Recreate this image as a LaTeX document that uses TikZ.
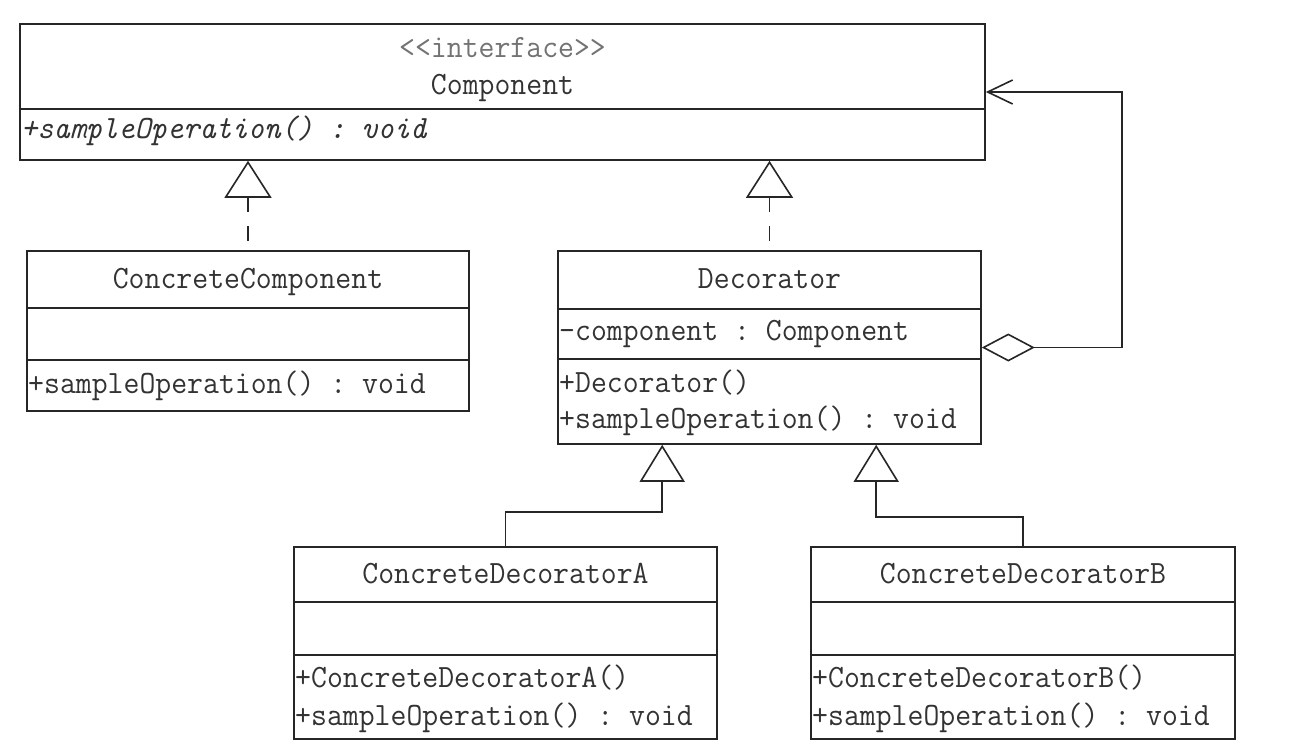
\documentclass[tikz,border=0pt]{standalone}
\usepackage{fontspec}
\setmonofont[FakeStretch=0.95]{Latin Modern Mono}
\usetikzlibrary{arrows.meta,calc}
\newcommand\umlfont{\ttfamily\fontsize{32.5}{40}\selectfont}
\begin{document}
\begin{tikzpicture}[x=1pt,y=-1pt,
  classbox/.style={draw=black!85,line width=1.6pt,rectangle,inner sep=0pt},
  rule/.style={draw=black!85,line width=1.6pt},
  classname/.style={font=\umlfont,text=black!80,inner sep=0pt,anchor=base},
  stereo/.style={font=\umlfont,text=black!55,inner sep=0pt,anchor=base},
  member/.style={font=\umlfont,text=black!80,inner sep=0pt,anchor=base west},
  realize/.style={draw=black!85,line width=1.6pt,dash pattern=on 15pt off 14pt,
    {Triangle[open,length=37pt,width=47pt]}-},
  inherit/.style={draw=black!85,line width=1.6pt,
    -{Triangle[open,length=37pt,width=45pt]}},
  aggr/.style={draw=black!85,line width=1.6pt,
    {Diamond[open,length=53pt,width=28pt]}-{Straight Barb[length=25pt,width=24pt]}}
]
\path[fill=white] (0,0) rectangle (1297,748);
\useasboundingbox (0,0) rectangle (1297,748);

% class boxes
\node[classbox,minimum width=965pt,minimum height=136pt] (comp) at (502.5,92) {};
\node[classbox,minimum width=442pt,minimum height=160pt] (cc) at (248,331) {};
\node[classbox,minimum width=423pt,minimum height=193pt] (dec) at (769.5,347.5) {};
\node[classbox,minimum width=423pt,minimum height=192pt] (cda) at (505.5,643) {};
\node[classbox,minimum width=424pt,minimum height=192pt] (cdb) at (1023,643) {};

% compartment rules
\draw[rule] ($(comp.north west)+(0,86)$) -- ($(comp.north east)+(0,86)$);
\draw[rule] ($(cc.north west)+(0,58)$) -- ($(cc.north east)+(0,58)$);
\draw[rule] ($(cc.north west)+(0,110)$) -- ($(cc.north east)+(0,110)$);
\draw[rule] ($(dec.north west)+(0,59)$) -- ($(dec.north east)+(0,59)$);
\draw[rule] ($(dec.north west)+(0,109)$) -- ($(dec.north east)+(0,109)$);
\draw[rule] ($(cda.north west)+(0,56)$) -- ($(cda.north east)+(0,56)$);
\draw[rule] ($(cda.north west)+(0,109)$) -- ($(cda.north east)+(0,109)$);
\draw[rule] ($(cdb.north west)+(0,56)$) -- ($(cdb.north east)+(0,56)$);
\draw[rule] ($(cdb.north west)+(0,109)$) -- ($(cdb.north east)+(0,109)$);

% Component
\node[stereo] (compst) at (502.5,57) {<<interface>>};
\node[classname] (compname) at (502.5,94) {Component};
\node[member] (compop) at (21,138) {\itshape +sampleOperation() : void};

% ConcreteComponent
\node[classname] (ccname) at (248,288) {ConcreteComponent};
\node[member] (ccop) at (28,393) {+sampleOperation() : void};

% Decorator
\node[classname] (decname) at (769.5,288) {Decorator};
\node[member] (decattr) at (559,340) {-component : Component};
\node[member] (decctor) at (559,392) {+Decorator()};
\node[member] (decop) at (559,428) {+sampleOperation() : void};

% ConcreteDecoratorA
\node[classname] (cdaname) at (505.5,583) {ConcreteDecoratorA};
\node[member] (cdactor) at (295,687) {+ConcreteDecoratorA()};
\node[member] (cdaop) at (295,725) {+sampleOperation() : void};

% ConcreteDecoratorB
\node[classname] (cdbname) at (1023,583) {ConcreteDecoratorB};
\node[member] (cdbctor) at (812,687) {+ConcreteDecoratorB()};
\node[member] (cdbop) at (812,725) {+sampleOperation() : void};

% realizations of the interface
\draw[realize] (comp.south -| cc.north) -- (cc.north);
\draw[realize] (comp.south -| dec.north) -- (dec.north);

% generalizations to Decorator
\coordinate (decA) at ($(dec.south west)+(105,0)$);
\coordinate (decB) at ($(dec.south west)+(319,0)$);
\coordinate (kinkA) at (0,512);
\coordinate (kinkB) at (0,517);
\draw[inherit] (cda.north) -- (cda.north |- kinkA) -| (decA);
\draw[inherit] (cdb.north) -- (cdb.north |- kinkB) -| (decB);

% aggregation back to Component
\coordinate (loop) at (1122,92);
\draw[aggr] (dec.east) -| (loop) -- (comp.east);
\end{tikzpicture}
\end{document}
